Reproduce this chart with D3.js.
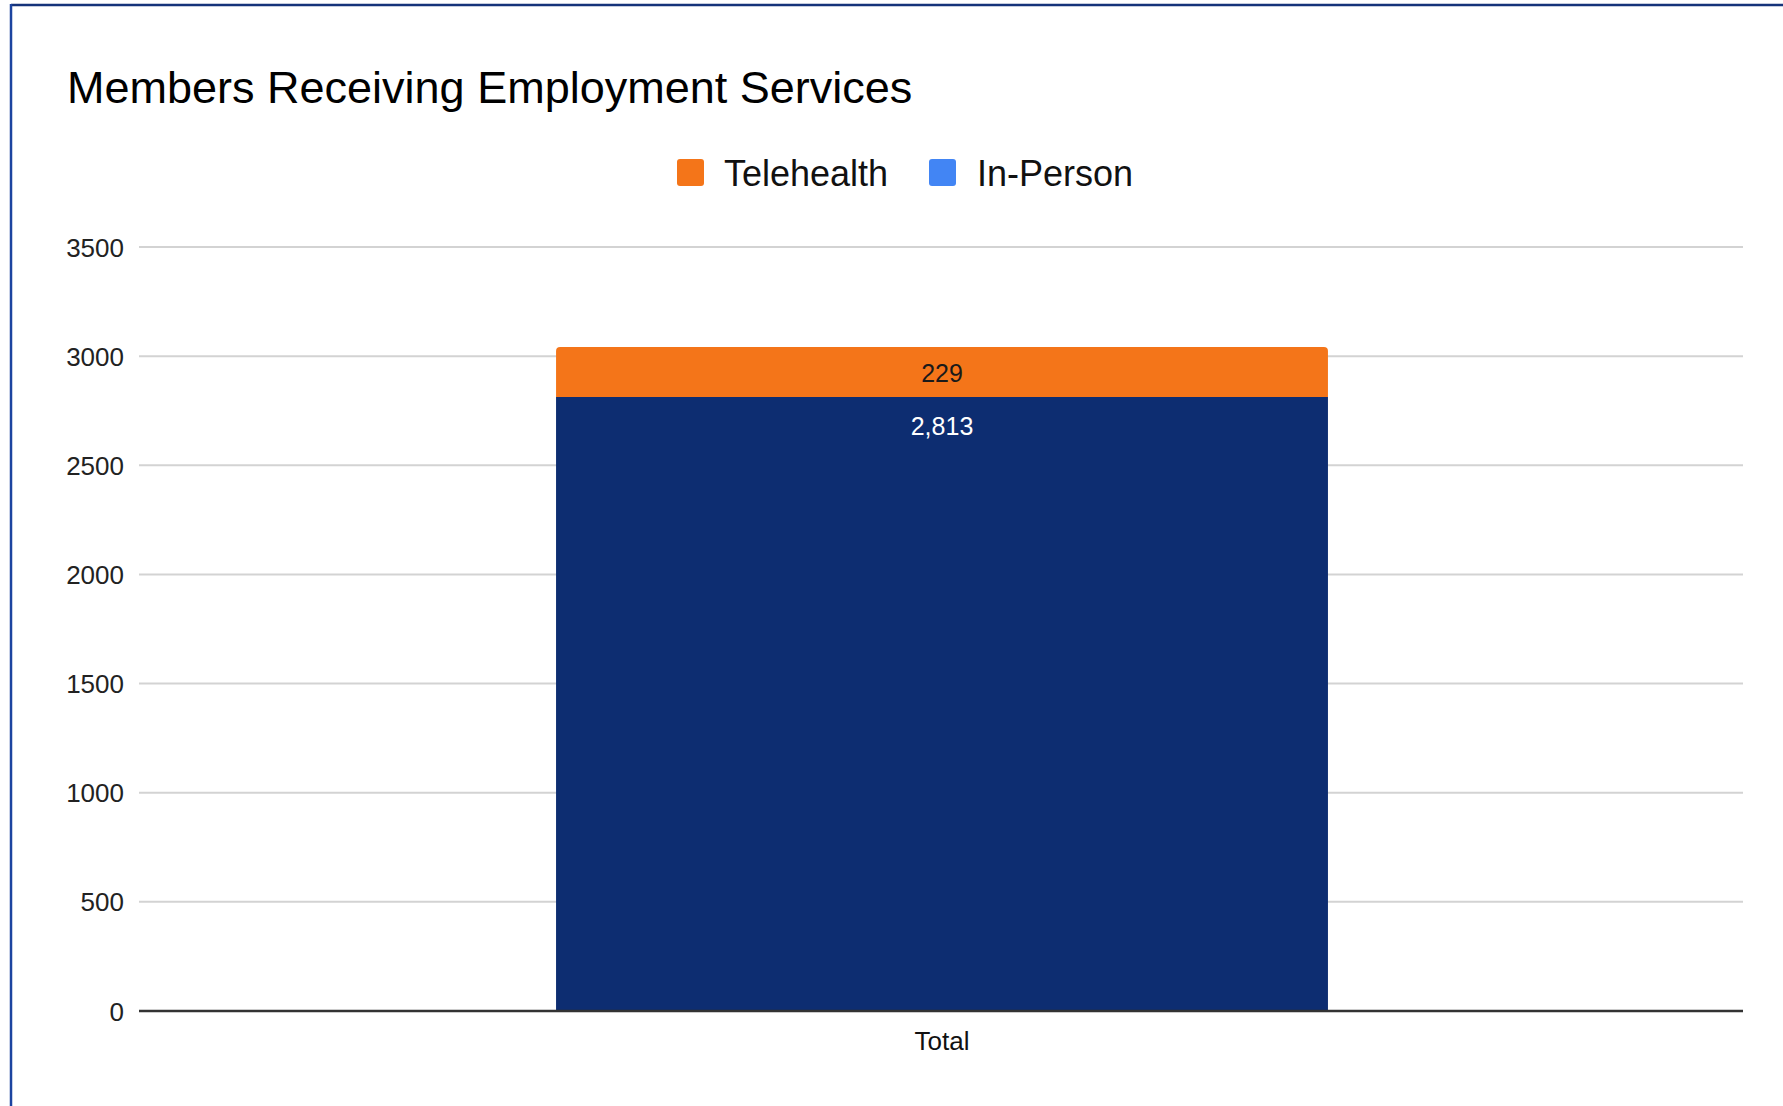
<!DOCTYPE html>
<html>
<head>
<meta charset="utf-8">
<script src="https://cdn.jsdelivr.net/npm/d3@7"></script>
<style>
  html, body { margin: 0; padding: 0; background: #fff; }
  svg { display: block; }
</style>
</head>
<body>
<svg id="chart" width="1783" height="1106"></svg>
<script>
const title = "Members Receiving Employment Services";
const categories = ["Total"];
const seriesNames = ["In-Person", "Telehealth"];
const inPersonValues = [2813];
const telehealthValues = [229];
const legendNames = ["Telehealth", "In-Person"];
const yTicks = [0, 500, 1000, 1500, 2000, 2500, 3000, 3500];

(function () {
const barColors = { "In-Person": "#0d2d71", "Telehealth": "#f47519" };
const legendColors = { "Telehealth": "#f47519", "In-Person": "#4285f4" };
const labelColors = { "In-Person": "#ffffff", "Telehealth": "#1a1a1a" };

const svg = d3.select("#chart");
const font = "'Liberation Sans', Arial, Helvetica, sans-serif";

// frame border (top and left visible)
svg.append("line").attr("x1", 11).attr("x2", 1783).attr("y1", 5).attr("y2", 5)
  .attr("stroke", "#15337a").attr("stroke-width", 2.5);
svg.append("line").attr("x1", 11).attr("x2", 11).attr("y1", 4).attr("y2", 1106)
  .attr("stroke", "#1c44a0").attr("stroke-width", 2.5);

// title
svg.append("text").attr("x", 67).attr("y", 103)
  .attr("font-family", font).attr("font-size", 45).attr("fill", "#000")
  .text(title);

const plotLeft = 139, plotRight = 1743, plotTop = 247, plotBottom = 1011;
const y = d3.scaleLinear().domain([0, 3500]).range([plotBottom, plotTop]);
const x = d3.scaleBand().domain(categories).range([plotLeft + 1, plotRight + 1]).paddingInner(0).paddingOuter(0.539);

// gridlines
const grid = svg.append("g").attr("class", "grid");
grid.selectAll("line").data(yTicks.filter(d => d !== 0)).join("line")
  .attr("x1", plotLeft).attr("x2", plotRight)
  .attr("y1", d => y(d)).attr("y2", d => y(d))
  .attr("stroke", "#d3d3d3").attr("stroke-width", 2);

// y axis labels
const yAxis = d3.axisLeft(y).tickValues(yTicks).tickSize(0).tickPadding(0).tickFormat(d3.format("d"));
const yg = svg.append("g").attr("transform", "translate(124,0)").call(yAxis);
yg.select(".domain").remove();
yg.selectAll("text").attr("font-family", font).attr("font-size", 26).attr("fill", "#222")
  .attr("dy", "0.35em");

// stacked data
const rows = categories.map((c, i) => ({ cat: c, "In-Person": inPersonValues[i], "Telehealth": telehealthValues[i] }));
const stacked = d3.stack().keys(seriesNames)(rows);

const bw = x.bandwidth();
const r = 4;
stacked.forEach((layer, li) => {
  const key = layer.key;
  const isTop = li === stacked.length - 1;
  layer.forEach(seg => {
    const x0 = x(seg.data.cat), y0 = y(seg[1]), y1 = y(seg[0]);
    if (isTop) {
      const p = d3.path();
      p.moveTo(x0, y1);
      p.lineTo(x0, y0 + r);
      p.arcTo(x0, y0, x0 + r, y0, r);
      p.lineTo(x0 + bw - r, y0);
      p.arcTo(x0 + bw, y0, x0 + bw, y0 + r, r);
      p.lineTo(x0 + bw, y1);
      p.closePath();
      svg.append("path").attr("d", p.toString()).attr("fill", barColors[key]);
    } else {
      svg.append("rect").attr("x", x0).attr("y", y0).attr("width", bw).attr("height", y1 - y0)
        .attr("fill", barColors[key]);
    }
    const val = seg[1] - seg[0];
    const ly = isTop ? (y0 + y1) / 2 + 10 : y0 + 38;
    svg.append("text").attr("x", x0 + bw / 2).attr("y", ly)
      .attr("text-anchor", "middle").attr("font-family", font).attr("font-size", 25)
      .attr("fill", labelColors[key]).text(d3.format(",")(val));
  });
});

// x axis baseline
svg.append("line").attr("x1", plotLeft).attr("x2", plotRight).attr("y1", y(0)).attr("y2", y(0))
  .attr("stroke", "#333").attr("stroke-width", 2.5);

// x axis labels
const xAxis = d3.axisBottom(x).tickSize(0).tickPadding(0);
const xg = svg.append("g").attr("transform", `translate(0,${y(0)})`).call(xAxis);
xg.select(".domain").remove();
xg.selectAll("text").attr("font-family", font).attr("font-size", 26).attr("fill", "#111")
  .attr("dy", 0).attr("y", 39);

// legend
const legendItems = [
  { name: legendNames[0], sx: 677, tx: 724 },
  { name: legendNames[1], sx: 929, tx: 977 }
];
const lg = svg.append("g");
legendItems.forEach(it => {
  lg.append("rect").attr("x", it.sx).attr("y", 159).attr("width", 27).attr("height", 27)
    .attr("rx", 3).attr("fill", legendColors[it.name]);
  lg.append("text").attr("x", it.tx).attr("y", 186).attr("font-family", font)
    .attr("font-size", 36).attr("fill", "#111").text(it.name);
});
})();
</script>
</body>
</html>
